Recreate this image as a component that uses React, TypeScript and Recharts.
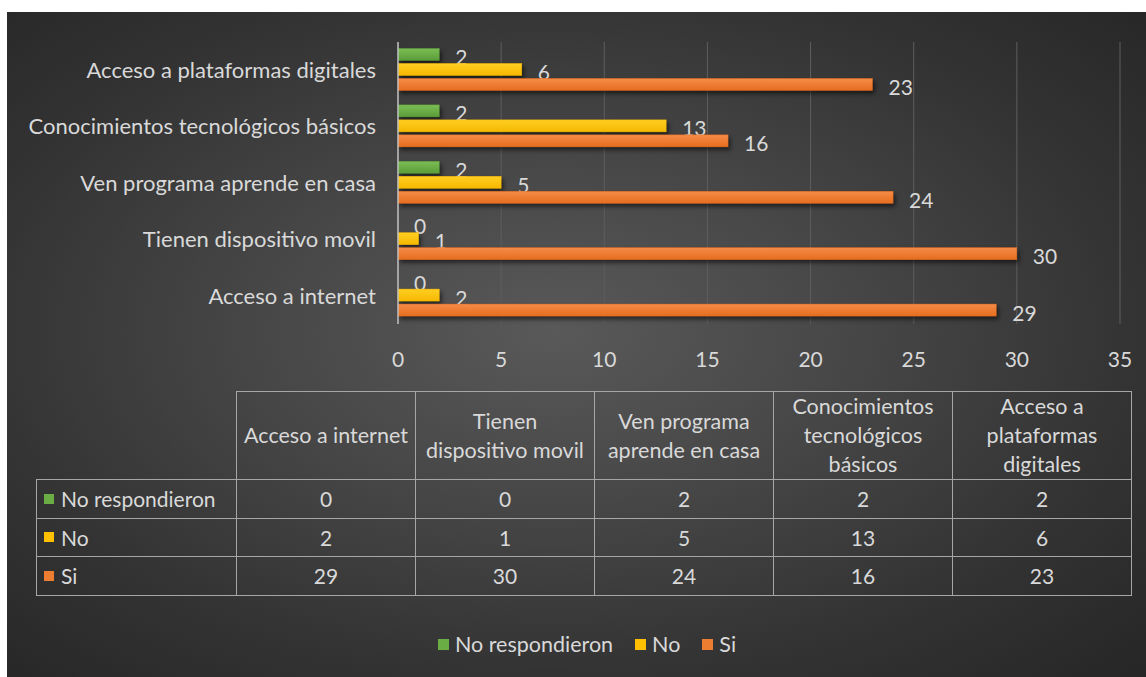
import { Bar, BarChart, CartesianGrid, XAxis, YAxis } from "recharts";

const categories: string[] = [
  "Acceso a internet",
  "Tienen dispositivo movil",
  "Ven programa aprende en casa",
  "Conocimientos tecnológicos básicos",
  "Acceso a plataformas digitales",
];

// header text of the data table, broken the way the original wraps it
const tableHeaders: string[] = [
  "Acceso a internet",
  "Tienen\ndispositivo movil",
  "Ven programa\naprende en casa",
  "Conocimientos\ntecnológicos\nbásicos",
  "Acceso a\nplataformas\ndigitales",
];

const noRespondieron: number[] = [0, 0, 2, 2, 2];
const no: number[] = [2, 1, 5, 13, 6];
const si: number[] = [29, 30, 24, 16, 23];

const xTicks: number[] = [0, 5, 10, 15, 20, 25, 30, 35];

interface Series {
  key: string;
  name: string;
  values: number[];
  color: string;
  top: string;
  bottom: string;
}

const series: Series[] = [
  { key: "noResp", name: "No respondieron", values: noRespondieron, color: "#6aad45", top: "#7cbd55", bottom: "#5a9c38" },
  { key: "no", name: "No", values: no, color: "#ffc000", top: "#ffcf22", bottom: "#f5b800" },
  { key: "si", name: "Si", values: si, color: "#ed7d31", top: "#f68c48", bottom: "#e56d1f" },
];

const chartData = categories.map((name: string, i: number) => {
  const row: Record<string, string | number> = { name };
  series.forEach((s: Series) => {
    row[s.key] = s.values[i];
  });
  return row;
});

const FONT = "Lato, 'Noto Sans', sans-serif";
const TEXT = "#d9d9d9";
const BORDER = "#a6a6a6";

// bar + its value label; zero-width bars still get their "0"
const makeShape = (s: Series) => (props: any) => {
  const { x, y, width, height, value } = props;
  const v = Array.isArray(value) ? value[1] - value[0] : value;
  return (
    <g>
      {width > 0 && (
        <rect
          x={x}
          y={y}
          width={width}
          height={height}
          fill={`url(#grad-${s.key})`}
          stroke={s.bottom}
          strokeWidth={0.5}
          style={{ filter: "drop-shadow(2px 3px 2px rgba(0,0,0,0.55))" }}
        />
      )}
      <text
        x={x + width + 16}
        y={y + height / 2 + 2}
        fill={TEXT}
        fontSize={21}
        fontFamily={FONT}
        textAnchor="start"
        dominantBaseline="central"
      >
        {v}
      </text>
    </g>
  );
};

export default function App() {
  const cell: React.CSSProperties = {
    border: `1px solid ${BORDER}`,
    textAlign: "center",
    padding: 0,
  };

  return (
    <div
      style={{
        position: "absolute",
        left: 0,
        top: 0,
        width: 1146,
        height: 677,
        background: "#ffffff",
        fontFamily: FONT,
      }}
    >
      <div
        style={{
          position: "absolute",
          left: 7,
          top: 12,
          width: 1139,
          height: 665,
          background:
            "radial-gradient(ellipse at 48% 48%, #595959 0%, #474747 35%, #333333 70%, #262626 100%)",
        }}
      >
        <BarChart
          width={1139}
          height={665}
          data={chartData}
          layout="vertical"
          margin={{ top: 30, right: 26, left: 0, bottom: 323 }}
          barCategoryGap="11.5%"
          barGap={3}
        >
          <defs>
            {series.map((s: Series) => (
              <linearGradient key={s.key} id={`grad-${s.key}`} x1="0" y1="0" x2="0" y2="1">
                <stop offset="0%" stopColor={s.top} />
                <stop offset="100%" stopColor={s.bottom} />
              </linearGradient>
            ))}
          </defs>
          <CartesianGrid horizontal={false} stroke="#5e5e5e" strokeWidth={1} />
          <XAxis
            type="number"
            domain={[0, 35]}
            ticks={xTicks}
            axisLine={false}
            tickLine={false}
            tickMargin={22}
            height={30}
            tick={{ fill: TEXT, fontSize: 21, fontFamily: FONT }}
          />
          <YAxis
            type="category"
            dataKey="name"
            reversed
            width={391}
            axisLine={{ stroke: "#bfbfbf", strokeWidth: 1.5 }}
            tickLine={false}
            tickMargin={16}
            tick={{ fill: TEXT, fontSize: 22, fontFamily: FONT }}
          />
          {series.map((s: Series) => (
            <Bar
              key={s.key}
              dataKey={s.key}
              name={s.name}
              fill={s.color}
              isAnimationActive={false}
              shape={makeShape(s)}
            />
          ))}
        </BarChart>

        <table
          style={{
            position: "absolute",
            left: 29,
            top: 379,
            borderCollapse: "collapse",
            tableLayout: "fixed",
            color: TEXT,
            fontSize: 21,
            fontFamily: FONT,
          }}
        >
          <colgroup>
            <col style={{ width: 200 }} />
            {tableHeaders.map((h: string) => (
              <col key={h} style={{ width: 179 }} />
            ))}
          </colgroup>
          <tbody>
            <tr style={{ height: 87 }}>
              <td style={{ border: "none" }} />
              {tableHeaders.map((h: string) => (
                <td key={h} style={{ ...cell, whiteSpace: "pre-line", lineHeight: "29px", fontSize: 21.5 }}>
                  {h}
                </td>
              ))}
            </tr>
            {series.map((s: Series) => (
              <tr key={s.key} style={{ height: 38.5 }}>
                <td style={{ ...cell, textAlign: "left", paddingLeft: 7, whiteSpace: "nowrap" }}>
                  <span style={{ display: "flex", alignItems: "center" }}>
                    <span
                      style={{
                        display: "inline-block",
                        width: 10,
                        height: 10,
                        background: s.color,
                        marginRight: 7,
                      }}
                    />
                    {s.name}
                  </span>
                </td>
                {s.values.map((v: number, i: number) => (
                  <td key={i} style={cell}>
                    {v}
                  </td>
                ))}
              </tr>
            ))}
          </tbody>
        </table>

        <div
          style={{
            position: "absolute",
            left: 0,
            top: 619,
            width: 1160,
            display: "flex",
            justifyContent: "center",
            gap: 22,
            color: TEXT,
            fontSize: 21.5,
          }}
        >
          {series.map((s: Series) => (
            <span key={s.key} style={{ display: "flex", alignItems: "center" }}>
              <span
                style={{
                  display: "inline-block",
                  width: 11,
                  height: 11,
                  background: s.color,
                  marginRight: 6,
                }}
              />
              {s.name}
            </span>
          ))}
        </div>
      </div>
    </div>
  );
}
